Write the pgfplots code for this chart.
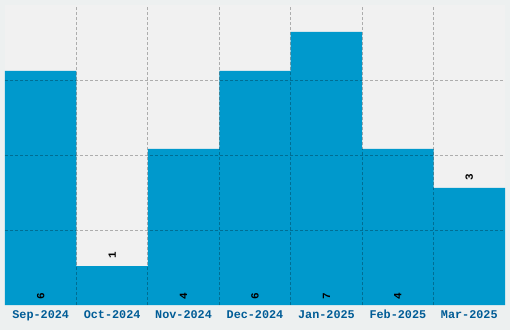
\documentclass[border=0pt]{standalone}
\usepackage{pgfplots}
\pgfplotsset{compat=1.18}
\usepackage{fontspec}
\setmainfont{Liberation Sans}
\setmonofont{Liberation Mono}
\definecolor{outerbg}{RGB}{237,240,240}
\definecolor{plotbg}{RGB}{241,241,241}
\definecolor{barblue}{RGB}{0,153,204}
\definecolor{ticklab}{RGB}{0,92,150}
\begin{document}
\begin{tikzpicture}
\fill[outerbg] (0,0) rectangle (510pt,330pt);
\begin{axis}[
  at={(5pt,25pt)}, anchor=south west,
  scale only axis, width=500pt, height=300pt,
  xmin=-0.5, xmax=6.5, ymin=0, ymax=7.692,
  axis background/.style={fill=plotbg},
  axis line style={draw=none},
  axis on top,
  xtick={0,...,6},
  xticklabels={Sep-2024,Oct-2024,Nov-2024,Dec-2024,Jan-2025,Feb-2025,Mar-2025},
  xticklabel style={font=\ttfamily\bfseries\fontsize{11.8}{12}\selectfont, text=ticklab,
    anchor=center, text height=7pt, text depth=0pt, inner sep=0pt, yshift=-10pt},
  major tick length=0pt, minor tick length=0pt,
  minor xtick={0.5,1.5,2.5,3.5,4.5,5.5},
  xminorgrids, xmajorgrids=false,
  ytick={1.923,3.846,5.769}, yticklabels={}, ymajorgrids,
  grid style={black, opacity=0.28, line width=1pt, dash pattern=on 3pt off 2pt},
  minor grid style={black, opacity=0.28, line width=1pt, dash pattern=on 3pt off 2pt},
]
\addplot[ybar, bar width=1, bar shift=0pt, fill=barblue, draw=none]
  coordinates {(0,6) (1,1) (2,4) (3,6) (4,7) (5,4) (6,3)};
\addplot[draw=none, mark=none, nodes near coords, point meta=explicit symbolic,
  nodes near coords align={center},
  every node near coord/.append style={rotate=90, anchor=center, inner sep=0pt,
    font=\ttfamily\bfseries\fontsize{11}{12}\selectfont, text=black}]
  coordinates {(0,0.23)[6] (2,0.23)[4] (3,0.23)[6] (4,0.23)[7] (5,0.23)[4]
               (1,1.28)[1] (6,3.28)[3]};
\end{axis}
\pgfresetboundingbox
\path[use as bounding box] (0,0) rectangle (510pt,330pt);
\end{tikzpicture}
\end{document}
